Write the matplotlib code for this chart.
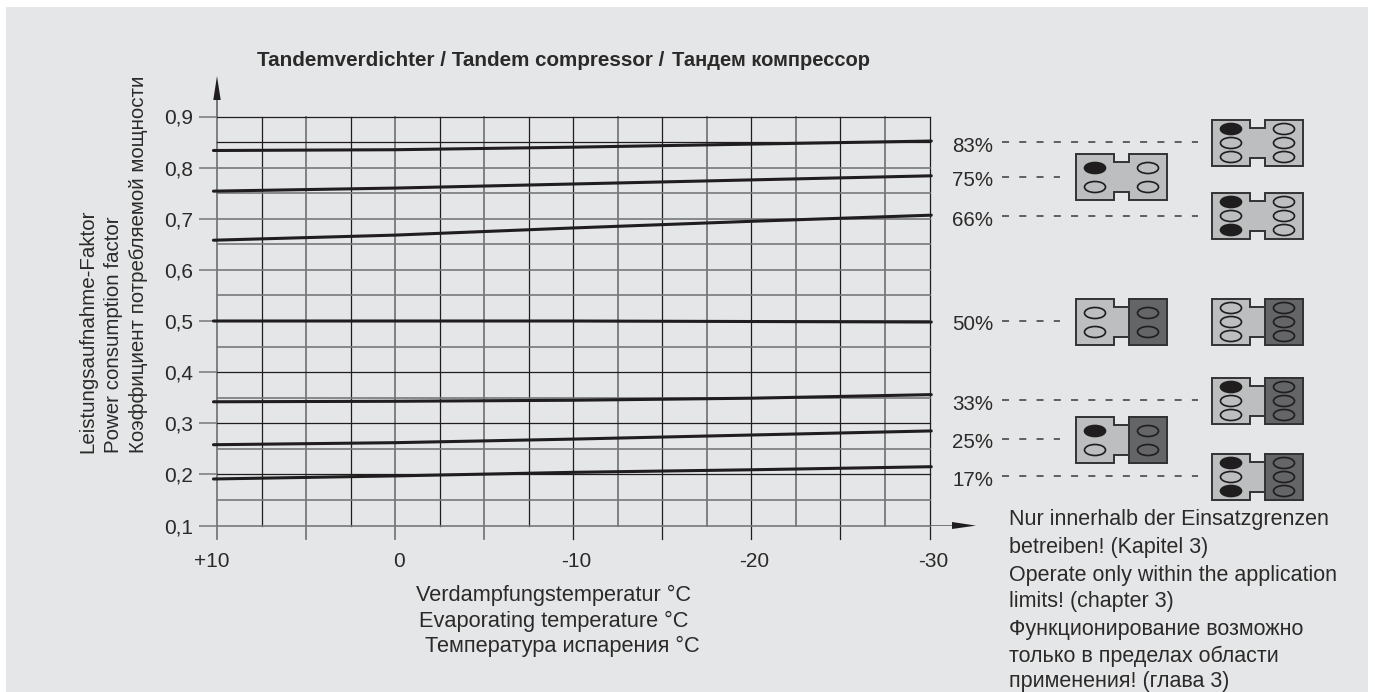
import matplotlib
matplotlib.use("Agg")
import matplotlib.pyplot as plt
from matplotlib.patches import Ellipse, Polygon, Rectangle

plt.rcParams["font.family"] = ["Liberation Sans", "DejaVu Sans"]

# values
temps = [10.2, 0, -10, -20, -30.1]
curve_83 = [0.8335, 0.835, 0.840, 0.846, 0.852]
curve_75 = [0.754, 0.760, 0.768, 0.776, 0.784]
curve_66 = [0.658, 0.668, 0.682, 0.695, 0.707]
curve_50 = [0.500, 0.500, 0.500, 0.499, 0.498]
curve_33 = [0.342, 0.343, 0.345, 0.349, 0.356]
curve_25 = [0.258, 0.262, 0.269, 0.277, 0.285]
curve_17 = [0.191, 0.197, 0.204, 0.209, 0.215]
curves = [curve_83, curve_75, curve_66, curve_50, curve_33, curve_25, curve_17]

x_ticks = [10, 0, -10, -20, -30]
x_labels = ["+10", "0", "-10", "-20", "-30"]
y_ticks = [0.1, 0.2, 0.3, 0.4, 0.5, 0.6, 0.7, 0.8, 0.9]
y_labels = ["0,1", "0,2", "0,3", "0,4", "0,5", "0,6", "0,7", "0,8", "0,9"]
percents = ["83%", "75%", "66%", "50%", "33%", "25%", "17%"]

title_a = "Tandemverdichter / Tandem compressor /"
title_b = "Тандем компрессор"
x_title = ["Verdampfungstemperatur °C", "Evaporating temperature °C", "Температура испарения °C"]
y_title = ["Leistungsaufnahme-Faktor", "Power consumption factor", "Коэффициент потребляемой мощности"]
note = ["Nur innerhalb der Einsatzgrenzen", "betreiben! (Kapitel 3)",
        "Operate only within the application", "limits! (chapter 3)",
        "Функционирование возможно", "только в пределах области", "применения! (глава 3)"]

W, H = 1375, 692
TEXT = "#2b2a29"
DARK = "#1f1d1e"
GREY = "#77787a"
PANEL = "#e5e6e8"
LIGHT = "#bcbec0"
BLOCK = "#646567"

# the printed grid mixes thin black and soft grey lines
grey_v = [0, 2, 4, 6, 9, 11, 13, 15]
dark_h = [0.9, 0.85, 0.4, 0.3, 0.2]

fig = plt.figure(figsize=(W / 100, H / 100), dpi=100, facecolor="white")

# overlay in pixels for the panel, arrows, dashes and compressor icons
bg = fig.add_axes([0, 0, 1, 1])
bg.set_xlim(0, W)
bg.set_ylim(H, 0)
bg.axis("off")
bg.add_patch(Rectangle((6, 7), 1362, H - 7, fc=PANEL, ec="none"))

# main plot axes
left, right, top, bottom = 217, 929.5, 116.5, 525.5
ax = fig.add_axes([left / W, 1 - bottom / H, (right - left) / W, (bottom - top) / H])
ax.patch.set_alpha(0)
ax.set_xlim(10, -30)
ax.set_ylim(0.1, 0.9)
for s in ax.spines.values():
    s.set_visible(False)
ax.set_xticks([])
ax.set_yticks(y_ticks)
ax.set_yticklabels(y_labels, fontsize=15, color=TEXT)
ax.tick_params(axis="y", length=13, width=1.1, color=GREY, pad=4)

for i in range(17):
    t = 10 - i * 2.5
    grey = i in grey_v
    # every 5 degrees the line runs on below the plot as a tick
    y0 = -0.026 if i % 2 == 0 else 0
    ax.plot([t, t], [0.1 + y0, 0.9], color=GREY if grey else DARK, lw=1.3 if grey else 0.9,
            zorder=1, clip_on=False)
for i in range(17):
    v = round(0.1 + i * 0.05, 2)
    grey = v not in dark_h
    ax.axhline(v, color=GREY if grey else DARK, lw=1.2 if grey else 0.9, zorder=1, clip_on=False)

for c in curves:
    ax.plot(temps, c, color=DARK, lw=2.2, solid_capstyle="round", zorder=3, clip_on=False)

for t, lab, dx in zip(x_ticks, x_labels, [-5, 4, 3, 3, 4]):
    ax.annotate(lab, xy=(t, 0.1), xytext=(dx, -36), textcoords="offset pixels", fontsize=15,
                color=TEXT, ha="center", va="center")

# arrows at the ends of the axes
bg.add_patch(Rectangle((216.4, 100), 1.3, 17, fc=GREY, ec="none"))
bg.add_patch(Polygon([(217, 76), (213.3, 100), (220.7, 100)], fc=DARK, ec="none"))
bg.add_patch(Rectangle((929, 525), 24, 1.3, fc=GREY, ec="none"))
bg.add_patch(Polygon([(976, 525.6), (952, 522), (952, 529)], fc=DARK, ec="none"))

fig.text(257 / W, 1 - 61 / H, title_a, fontsize=14.9, fontweight="bold", color=TEXT, va="center", ha="left")
fig.text(672 / W, 1 - 60 / H, title_b, fontsize=14.5, fontweight="bold", color=TEXT, va="center", ha="left")
for txt, px, py in zip(x_title, [553.5, 554, 562], [595, 621, 646]):
    fig.text(px / W, 1 - py / H, txt, fontsize=15.7, color=TEXT, ha="center", va="center")
for txt, px in zip(y_title, [88, 113.5, 138.5]):
    fig.text(px / W, 1 - 453 / H, txt, fontsize=14.8, color=TEXT, rotation=90,
             ha="center", va="bottom")
for txt, py in zip(note, [520, 547, 575, 601, 630, 656, 681]):
    fig.text(1009 / W, 1 - py / H, txt, fontsize=15.5, color=TEXT, ha="left", va="center")
for txt, py in zip(percents, [146, 180, 220, 324, 404, 442, 480]):
    fig.text(993 / W, 1 - py / H, txt, fontsize=14.8, color=TEXT, ha="right", va="center")


def dashes(y, x1):
    bg.plot([1002, x1], [y, y], color="#3a3a3a", lw=1.1, dashes=(4.6, 6.7), zorder=2)


def compressor(x0, y0, rows, filled, dark_right):
    # rows = holes per side, filled = indexes of solid holes on the left side
    w, h = 91, 46
    nx0, nx1 = x0 + 38, x0 + 53
    pts = [(x0, y0), (nx0, y0), (nx0, y0 + 8), (nx1, y0 + 8), (nx1, y0), (x0 + w, y0),
           (x0 + w, y0 + h), (nx1, y0 + h), (nx1, y0 + h - 8), (nx0, y0 + h - 8), (nx0, y0 + h), (x0, y0 + h)]
    bg.add_patch(Polygon(pts, closed=True, fc=LIGHT, ec="#333333", lw=1.4, zorder=3))
    if dark_right:
        bg.add_patch(Rectangle((nx1, y0), w - 53, h, fc=BLOCK, ec="#333333", lw=1.4, zorder=3))
    ys = [y0 + 14, y0 + 33] if rows == 2 else [y0 + 9, y0 + 23, y0 + 37]
    for i, cy in enumerate(ys):
        bg.add_patch(Ellipse((x0 + 19, cy), 21, 11, fc=DARK if i in filled else "none",
                             ec=DARK, lw=1.2, zorder=4))
        bg.add_patch(Ellipse((x0 + 72, cy), 21, 11, fc="none", ec=DARK, lw=1.2, zorder=4))


for y, x1 in zip([142, 177, 216, 321, 400, 439, 476], [1198, 1060, 1198, 1060, 1198, 1060, 1198]):
    dashes(y, x1)

compressor(1212, 120, 3, [0], False)
compressor(1076, 154, 2, [0], False)
compressor(1212, 193, 3, [0, 2], False)
compressor(1076, 299, 2, [], True)
compressor(1212, 299, 3, [], True)
compressor(1212, 378, 3, [0], True)
compressor(1076, 417, 2, [0], True)
compressor(1212, 454, 3, [0, 2], True)

fig.savefig("out.png", dpi=100, facecolor="white")
